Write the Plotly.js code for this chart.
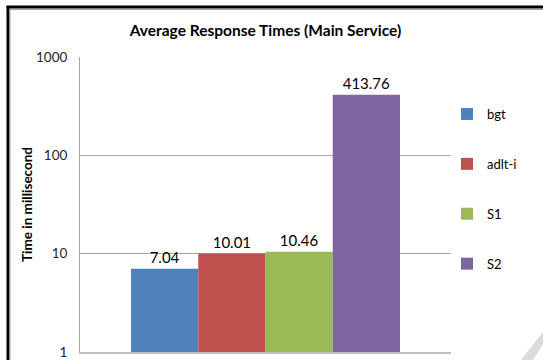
<!DOCTYPE html>
<html>
<head>
<meta charset="utf-8">
<script src="https://cdn.plot.ly/plotly-3.0.1.min.js"></script>
<style>html,body{margin:0;padding:0;background:#fff;}#chart{width:543px;height:360px;}</style>
</head>
<body>
<div id="chart"></div>
<script>
// Data
const category = ["Main Service"];
const seriesNames = ["bgt", "adlt-i", "S1", "S2"];
const seriesValues = [7.04, 10.01, 10.46, 413.76];
const seriesColors = ["#4F81BD", "#C0504D", "#9BBB59", "#8064A2"];
const yTickVals = [1, 10, 100, 1000];
const yTickText = ["1", "10", "100", "1000"];

const W = 543, H = 360;
const L = 80, R = 451, T = 57, B = 352;
const px = x => (x - L) / (R - L);
const py = y => (B - y) / (B - T);
const FONT = "Lato, 'Open Sans', sans-serif";

const traces = seriesNames.map((n, i) => ({
  type: "bar",
  name: n,
  x: category,
  y: [seriesValues[i]],
  text: [seriesValues[i].toFixed(2)],
  textposition: "outside",
  textfont: {family: FONT, size: 15, color: "#000"},
  cliponaxis: false,
  marker: {color: seriesColors[i], line: {width: 0}},
  legendgroup: "g" + i,
  hoverinfo: "none"
}));

const layout = {
  width: W, height: H,
  margin: {l: L, r: W - R, t: T, b: H - B, pad: 0},
  paper_bgcolor: "#fff",
  plot_bgcolor: "#fff",
  font: {family: FONT, color: "#000"},
  title: {
    text: "<b>Average Response Times (Main Service)</b>",
    font: {family: FONT, size: 15.5, color: "#000"},
    x: 0.5, xanchor: "center", xref: "paper",
    y: 1 - 31 / H, yanchor: "middle", yref: "container"
  },
  barmode: "group",
  bargap: 0.275,
  bargroupgap: 0,
  showlegend: true,
  legend: {
    x: px(447), xanchor: "left",
    y: py(99), yanchor: "top",
    font: {family: FONT, size: 13, color: "#000"},
    tracegroupgap: 30,
    traceorder: "grouped",
    bgcolor: "rgba(0,0,0,0)"
  },
  xaxis: {
    type: "category",
    showticklabels: false,
    ticks: "",
    showgrid: false,
    showline: true,
    linecolor: "#bfbfbf",
    linewidth: 2,
    zeroline: false,
    fixedrange: true
  },
  yaxis: {
    type: "log",
    range: [0, 3],
    tickvals: yTickVals,
    ticktext: yTickText,
    ticks: "",
    ticklabelstandoff: 9,
    tickfont: {family: FONT, size: 13.5, color: "#262626"},
    showgrid: true,
    gridcolor: "#a6a6a6",
    gridwidth: 1,
    showline: true,
    linecolor: "#a6a6a6",
    linewidth: 1,
    zeroline: false,
    title: {
      text: "<b>Time in millisecond</b>",
      font: {family: FONT, size: 13.5, color: "#000"},
      standoff: 0
    },
    fixedrange: true
  },
  shapes: [
    {type: "line", xref: "paper", yref: "paper", x0: px(8), x1: px(8), y0: py(6), y1: py(362), line: {color: "#000", width: 3}},
    {type: "line", xref: "paper", yref: "paper", x0: px(6.5), x1: px(545), y0: py(7), y1: py(7), line: {color: "#000", width: 3}},
    {type: "line", xref: "paper", yref: "paper", x0: px(10), x1: px(10), y0: py(9), y1: py(362), line: {color: "#a0a0a0", width: 1}},
    {type: "line", xref: "paper", yref: "paper", x0: px(10), x1: px(545), y0: py(9.5), y1: py(9.5), line: {color: "#a0a0a0", width: 1}},
    {type: "path", xref: "paper", yref: "paper",
     path: `M ${px(543)} ${py(332)} L ${px(543)} ${py(344)} L ${px(533)} ${py(360)} L ${px(521)} ${py(360)} Z`,
     fillcolor: "rgba(190,190,190,0.55)", line: {width: 0}}
  ]
};

Plotly.newPlot("chart", traces, layout, {displayModeBar: false, staticPlot: true});
</script>
</body>
</html>
